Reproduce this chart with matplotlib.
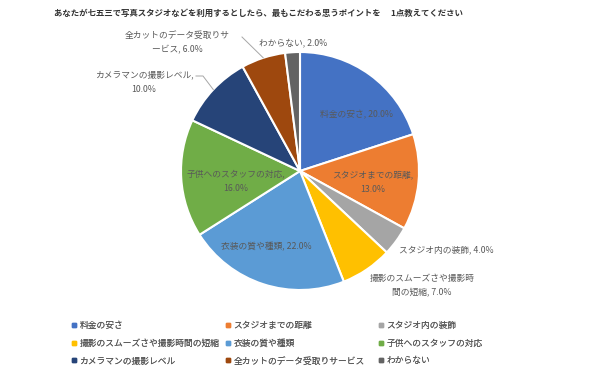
import matplotlib
matplotlib.use("Agg")
import matplotlib.pyplot as plt
from matplotlib.lines import Line2D
import numpy as np

plt.rcParams['font.family'] = ['Noto Sans CJK JP', 'DejaVu Sans']

title = "あなたが七五三で写真スタジオなどを利用するとしたら、最もこだわる思うポイントを　 1点教えてください"
categories = ["料金の安さ", "スタジオまでの距離", "スタジオ内の装飾", "撮影のスムーズさや撮影時間の短縮",
              "衣装の質や種類", "子供へのスタッフの対応", "カメラマンの撮影レベル",
              "全カットのデータ受取りサービス", "わからない"]
values = [20.0, 13.0, 4.0, 7.0, 22.0, 16.0, 10.0, 6.0, 2.0]
colors = ["#4472C4", "#ED7D31", "#A5A5A5", "#FFC000", "#5B9BD5", "#70AD47",
          "#264478", "#9E480E", "#636363"]

W, H = 600, 372
fig = plt.figure(figsize=(W / 100, H / 100), dpi=100)

def fx(px):
    return px / W

def fy(py):
    return 1 - py / H

cx, cy, R = 300, 171, 119
ax = fig.add_axes([fx(cx - R), fy(cy + R), 2 * R / W, 2 * R / H])
wedges, _ = ax.pie(values, colors=colors, startangle=90, counterclock=False,
                   radius=1, wedgeprops=dict(edgecolor='white', linewidth=1.5))
ax.set_xlim(-1, 1)
ax.set_ylim(-1, 1)
ax.axis('off')

lab_color = '#595959'
lab_fs = 6.3

# label texts and their pixel positions (line centres)
label_pos = [
    (356, 115), (373, 182), (446, 250), (422, 286),
    (266, 247), (236, 181), (144, 82), (177, 43), (293, 43),
]
label_text = [
    "料金の安さ, 20.0%",
    "スタジオまでの距離,\n13.0%",
    "スタジオ内の装飾, 4.0%",
    "撮影のスムーズさや撮影時\n間の短縮, 7.0%",
    "衣装の質や種類, 22.0%",
    "子供へのスタッフの対応,\n16.0%",
    "カメラマンの撮影レベル,\n10.0%",
    "全カットのデータ受取りサ\nービス, 6.0%",
    "わからない, 2.0%",
]
for (px, py), t in zip(label_pos, label_text):
    fig.text(fx(px), fy(py), t, ha='center', va='center', fontsize=lab_fs,
             color=lab_color, linespacing=1.75)

def wedge_edge_fig(i):
    w = wedges[i]
    mid = np.deg2rad((w.theta1 + w.theta2) / 2)
    pt = ax.transData.transform((np.cos(mid), np.sin(mid)))
    return fig.transFigure.inverted().transform(pt)

leader_color = '#A6A6A6'
# カメラマン leader
ex, ey = wedge_edge_fig(6)
fig.add_artist(Line2D([fx(196), fx(203), ex], [fy(76), fy(76), ey],
                      transform=fig.transFigure, color=leader_color, lw=0.7))
# 全カット leader
ex, ey = wedge_edge_fig(7)
fig.add_artist(Line2D([fx(242), ex], [fy(37), ey],
                      transform=fig.transFigure, color=leader_color, lw=0.7))

fig.text(fx(54), fy(13), title, ha='left', va='center', fontsize=6.05,
         fontweight='bold', color='#333333')

# legend: three fixed-width columns, filled row by row
col_x = [72, 226, 379]
for c in range(3):
    idx = [c, c + 3, c + 6]
    handles = [Line2D([], [], marker='s', linestyle='none', markersize=2.6,
                      markerfacecolor=colors[i], markeredgecolor=colors[i]) for i in idx]
    leg = fig.legend(handles, [categories[i] for i in idx], loc='upper left',
                     bbox_to_anchor=(fx(col_x[c]), fy(321)), frameon=False,
                     fontsize=6.3, handlelength=0.5, handletextpad=0.35,
                     labelspacing=1.0, borderpad=0, borderaxespad=0,
                     labelcolor=lab_color)
    fig.add_artist(leg)

fig.savefig("out.png", dpi=100, facecolor='white')
